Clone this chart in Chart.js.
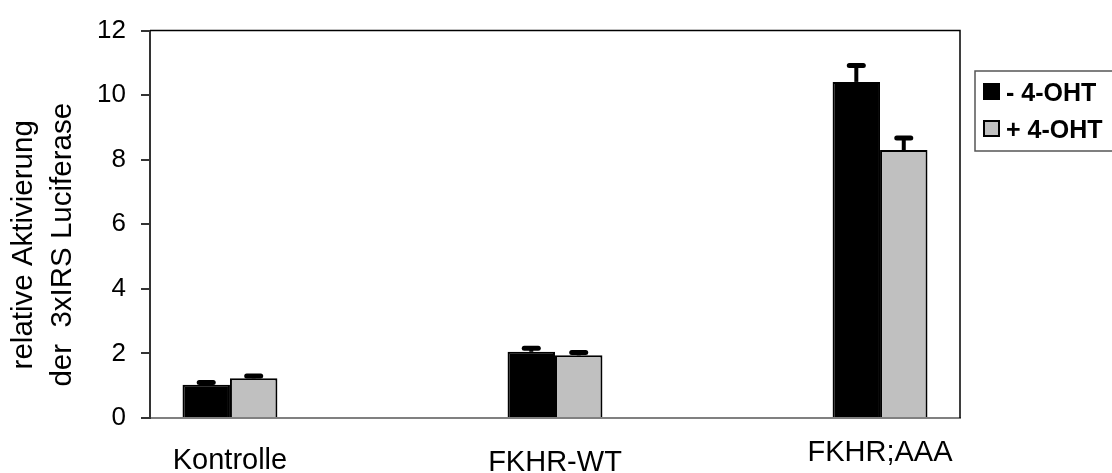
<!DOCTYPE html>
<html>
<head>
<meta charset="utf-8">
<title>3xIRS Luciferase</title>
<script src="https://cdn.jsdelivr.net/npm/chart.js@4.4.1/dist/chart.umd.min.js"></script>
<style>
  html, body { margin: 0; padding: 0; background: #fff; }
  #wrap { width: 1112px; height: 473px; }
</style>
</head>
<body>
<div id="wrap"><canvas id="chart" width="1112" height="473"></canvas></div>
<script>
// values
const categories = ['Kontrolle', 'FKHR-WT', 'FKHR;AAA'];
const seriesLabels = ['- 4-OHT', '+ 4-OHT'];
const minusOHT = [1.03, 2.05, 10.41];
const plusOHT = [1.23, 1.94, 8.30];
const minusOHTErr = [0.07, 0.11, 0.51];
const plusOHTErr = [0.07, 0.09, 0.37];
const yTicks = [0, 2, 4, 6, 8, 10, 12];

const FONT = "'Liberation Sans', Arial, sans-serif";
// per-label drop of the category labels (the original has them staggered)
const labelDrop = [86, 90, 70];

const errors = [minusOHTErr, plusOHTErr];

// upward-only error bars like the original
const errorBars = {
  id: 'errorBars',
  afterDatasetsDraw(chart) {
    const { ctx } = chart;
    const y = chart.scales.y;
    ctx.save();
    ctx.strokeStyle = '#000';
    chart.data.datasets.forEach((ds, di) => {
      const meta = chart.getDatasetMeta(di);
      meta.data.forEach((bar, i) => {
        const top = y.getPixelForValue(ds.data[i].y + errors[di][i]);
        ctx.lineCap = 'butt';
        ctx.lineWidth = 4;
        ctx.beginPath();
        ctx.moveTo(bar.x, bar.y);
        ctx.lineTo(bar.x, top);
        ctx.stroke();
        ctx.lineCap = 'round';
        ctx.lineWidth = 5;
        ctx.beginPath();
        ctx.moveTo(bar.x - 7, top);
        ctx.lineTo(bar.x + 7, top);
        ctx.stroke();
      });
    });
    ctx.restore();
  }
};

// top and right edge of the plot frame
const frame = {
  id: 'frame',
  afterDraw(chart) {
    const { ctx, chartArea: a } = chart;
    ctx.save();
    ctx.strokeStyle = '#000';
    ctx.lineWidth = 1.5;
    ctx.beginPath();
    ctx.moveTo(a.left, a.top);
    ctx.lineTo(a.right, a.top);
    ctx.lineTo(a.right, a.bottom);
    ctx.stroke();
    ctx.restore();
  }
};

// boxed legend on the right, as in the original
const boxLegend = {
  id: 'boxLegend',
  afterDraw(chart) {
    const { ctx, chartArea: a } = chart;
    const x0 = a.right + 15, y0 = 71;
    ctx.save();
    ctx.strokeStyle = '#555';
    ctx.lineWidth = 1.5;
    ctx.strokeRect(x0, y0, chart.width - x0 + 5, 80);
    ctx.font = "bold 25px " + FONT;
    ctx.textBaseline = 'alphabetic';
    chart.data.datasets.forEach((ds, i) => {
      const sy = y0 + 12 + i * 37;
      ctx.fillStyle = ds.backgroundColor;
      ctx.fillRect(x0 + 8, sy, 17, 17);
      ctx.lineWidth = 2;
      ctx.strokeStyle = '#000';
      ctx.strokeRect(x0 + 9, sy + 1, 15, 15);
      ctx.fillStyle = '#000';
      ctx.fillText(ds.label, x0 + 31, sy + 18);
    });
    ctx.restore();
  }
};

new Chart(document.getElementById('chart'), {
  type: 'bar',
  data: {
    datasets: [
      {
        label: seriesLabels[0],
        data: categories.map((c, i) => ({ x: i, y: minusOHT[i] })),
        backgroundColor: '#000000',
        borderColor: '#000000',
        borderWidth: 2
      },
      {
        label: seriesLabels[1],
        data: categories.map((c, i) => ({ x: i, y: plusOHT[i] })),
        backgroundColor: '#c0c0c0',
        borderColor: '#000000',
        borderWidth: 2
      }
    ]
  },
  options: {
    responsive: false,
    animation: false,
    barPercentage: 1,
    categoryPercentage: 0.292,
    layout: { padding: { top: 25, right: 152, bottom: 0, left: 0 } },
    plugins: {
      legend: { display: false },
      tooltip: { enabled: false }
    },
    scales: {
      x: {
        type: 'linear',
        offset: false,
        min: -0.246,
        max: 2.246,
        afterBuildTicks: s => { s.ticks = categories.map((c, i) => ({ value: i })); },
        afterFit: s => { s.height = 55; },
        ticks: {
          padding: 0,
          color: '#000',
          callback: v => categories[v],
          font: ctx => ({ family: FONT, size: 29, lineHeight: labelDrop[ctx.index] + 'px' })
        },
        grid: { drawOnChartArea: false, drawTicks: false },
        border: { color: '#808080', width: 2 }
      },
      y: {
        min: 0,
        max: 12,
        afterBuildTicks: s => { s.ticks = yTicks.map(v => ({ value: v })); },
        afterFit: s => { s.width = 150; },
        ticks: { padding: 15, color: '#000', font: { family: FONT, size: 26 } },
        grid: { drawOnChartArea: false, drawTicks: true, tickLength: 9, color: '#333', lineWidth: 2 },
        border: { color: '#333', width: 2 },
        title: {
          display: true,
          text: ['relative Aktivierung     ', 'der  3xIRS Luciferase     '],
          color: '#000',
          font: { family: FONT, size: 29.5, lineHeight: 1.305 },
          padding: { top: 5, bottom: 0 }
        }
      }
    }
  },
  plugins: [errorBars, frame, boxLegend]
});
</script>
</body>
</html>
